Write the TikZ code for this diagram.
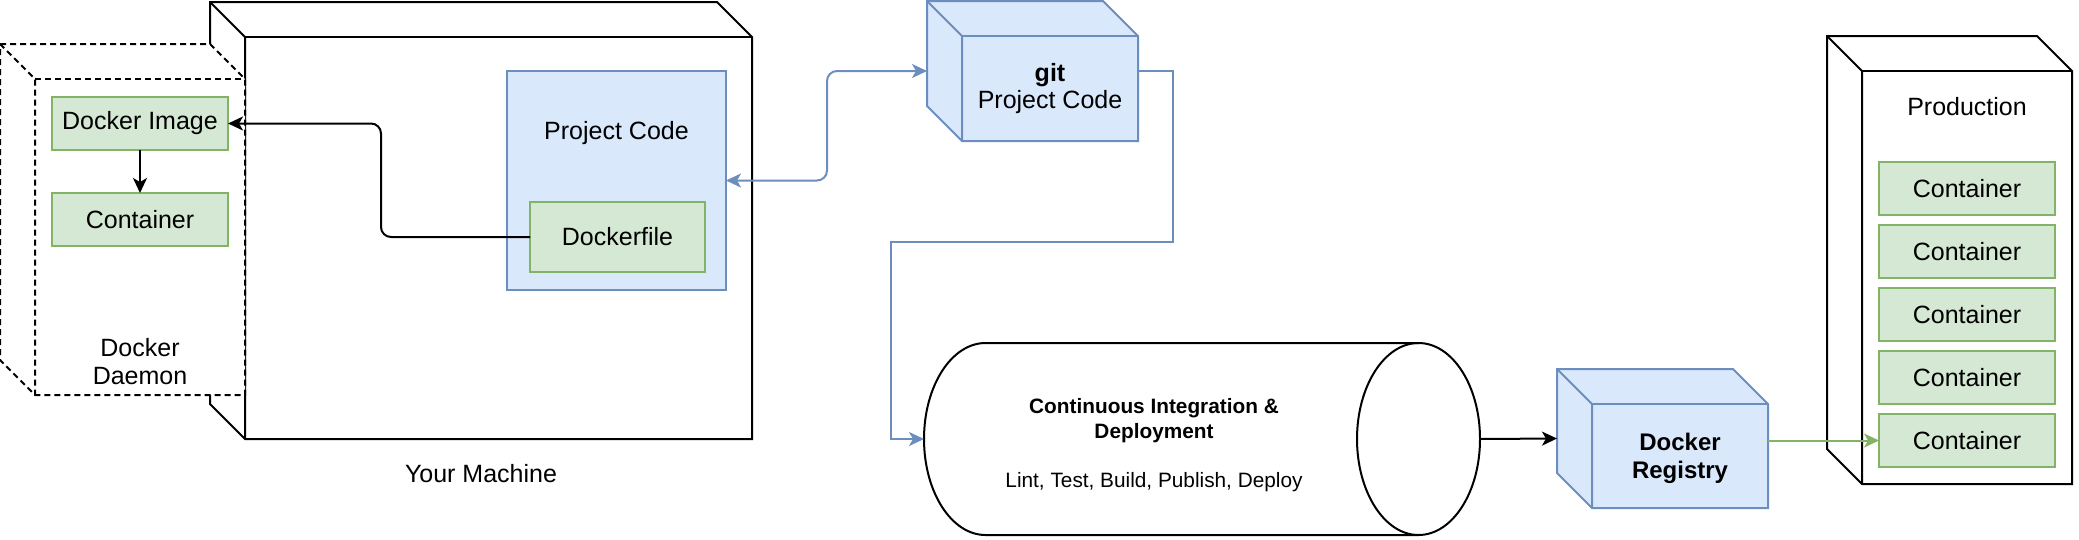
\documentclass[tikz,border=0pt]{standalone}
\usepackage{fontspec}
\setmainfont{Liberation Sans}
\usetikzlibrary{arrows.meta}

\definecolor{blueFill}{HTML}{DAE8FC}
\definecolor{blueLine}{HTML}{6C8EBF}
\definecolor{greenFill}{HTML}{D5E8D4}
\definecolor{greenLine}{HTML}{82B366}

% depth of the cube sides
\newcommand{\cubedepth}{35}
% #1 = box node, #2 = line style
\newcommand{\drawcube}[2]{%
	\draw[#2] (#1.north west) -- ([shift={(-\cubedepth,0)}]#1.north east) -- ([shift={(0,\cubedepth)}]#1.north east) -- (#1.south east) -- ([shift={(\cubedepth,0)}]#1.south west) -- ([shift={(0,-\cubedepth)}]#1.south west) -- cycle;
	\draw[#2, fill=none] (#1.north west) -- ([shift={(\cubedepth,\cubedepth)}]#1.north west) -- ([shift={(\cubedepth,0)}]#1.south west);
	\draw[#2, fill=none] ([shift={(\cubedepth,\cubedepth)}]#1.north west) -- ([shift={(0,\cubedepth)}]#1.north east);
}

\tikzset{
	base/.style={inner sep=0pt, outer sep=0pt},
	cubebox/.style={base, anchor=north west},
	txt/.style={base, font=\fontsize{25}{28}\selectfont},
	greenbox/.style={base, draw=greenLine, fill=greenFill, line width=2pt, minimum width=176pt, minimum height=53pt, font=\fontsize{25}{28}\selectfont},
	bluebox/.style={base, draw=blueLine, fill=blueFill, line width=2pt},
	plaincube/.style={draw=black, fill=white, line width=2pt},
	dashcube/.style={draw=black, fill=white, line width=2pt, dash pattern=on 6pt off 4pt},
	bluecube/.style={draw=blueLine, fill=blueFill, line width=2pt},
	blackarrow/.style={-{Stealth[length=15pt, width=14pt, inset=4pt]}, line width=2pt},
	bluearrow/.style={-{Stealth[length=15pt, width=14pt, inset=4pt]}, draw=blueLine, line width=2pt},
	bluedouble/.style={{Stealth[length=15pt, width=14pt, inset=4pt]}-{Stealth[length=15pt, width=14pt, inset=4pt]}, draw=blueLine, line width=2pt},
	greenarrow/.style={-{Stealth[length=15pt, width=14pt, inset=4pt]}, draw=greenLine, line width=2pt},
}

\begin{document}
\begin{tikzpicture}[x=1pt, y=-1pt]

	\useasboundingbox (0,0) rectangle (2079,539);

	% your machine with the docker daemon in front
	\node[cubebox, minimum width=542pt, minimum height=437pt] at (210,2) (machine) {};
	\drawcube{machine}{plaincube}
	\node[cubebox, minimum width=245pt, minimum height=351pt] at (0,44) (daemon) {};
	\drawcube{daemon}{dashcube}

	\node[greenbox, anchor=north west] at (52,97) (img) {Docker Image};
	\node[greenbox, anchor=north west] at (52,193) (cont) {Container};
	\node[txt, align=center] at (140,362) (daemontext) {Docker\\Daemon};
	\node[txt] at (481,474) (machinetext) {Your Machine};

	\node[bluebox, anchor=north west, minimum width=219pt, minimum height=219pt] at (507,71) (pcode) {};
	\node[txt] at (616.5,133) (pcodetext) {Project Code};
	\node[greenbox, anchor=north west, minimum width=175pt, minimum height=70pt] at (530,202) (dfile) {Dockerfile};

	% git
	\node[cubebox, minimum width=211pt, minimum height=140pt] at (927,1) (git) {};
	\drawcube{git}{bluecube}
	\node[txt, align=center, font=\fontsize{25}{27}\selectfont] at (1050,89) (gittext) {\textbf{git}\\Project Code};

	% ci pipeline
	\node[cubebox, minimum width=556pt, minimum height=192pt] at (924,343) (ci) {};
	\draw[line width=2pt, fill=white] ([xshift=61.5pt]ci.north west) -- ([xshift=-61.5pt]ci.north east)
		arc[start angle=90, end angle=-90, x radius=61.5pt, y radius=96pt]
		-- ([xshift=61.5pt]ci.south west)
		arc[start angle=270, end angle=90, x radius=61.5pt, y radius=96pt] -- cycle;
	\draw[line width=2pt] ([xshift=-61.5pt]ci.south east) arc[start angle=270, end angle=90, x radius=61.5pt, y radius=96pt];
	\node[txt, align=center, font=\fontsize{20.8}{25}\selectfont] at (1154,445) (citext) {\textbf{Continuous Integration \&}\\\textbf{Deployment}\\[24pt]Lint, Test, Build, Publish, Deploy};

	% registry
	\node[cubebox, minimum width=211pt, minimum height=139pt] at (1557,369) (reg) {};
	\drawcube{reg}{bluecube}
	\node[txt, align=center, font=\bfseries\fontsize{24}{28}\selectfont] at (1680,458) (regtext) {Docker\\Registry};

	% production
	\node[cubebox, minimum width=245pt, minimum height=448pt] at (1827,36) (prod) {};
	\drawcube{prod}{plaincube}
	\node[txt] at (1967,107) (prodtext) {Production};
	\node[greenbox, anchor=north west] at (1879,162) (prod1) {Container};
	\node[greenbox, anchor=north west] at ([yshift=-10pt]prod1.south west) (prod2) {Container};
	\node[greenbox, anchor=north west] at ([yshift=-10pt]prod2.south west) (prod3) {Container};
	\node[greenbox, anchor=north west] at ([yshift=-10pt]prod3.south west) (prod4) {Container};
	\node[greenbox, anchor=north west] at ([yshift=-10pt]prod4.south west) (prod5) {Container};

	% connectors
	\draw[blackarrow] (img.south) -- (cont.north);
	\draw[blackarrow, rounded corners=10pt] (dfile.west) -- ++(-149,0) |- (img.east);
	\draw[bluedouble, rounded corners=10pt] (pcode.east) -- ++(101,0) |- (git.west);
	\coordinate (citurn) at (891,242);
	\draw[bluearrow] (git.east) -- ++(35,0) |- (citurn) |- (ci.west);
	\draw[blackarrow] (ci.east) -- (reg.west);
	\draw[greenarrow] (reg.east |- prod5.west) -- (prod5.west);

\end{tikzpicture}
\end{document}
